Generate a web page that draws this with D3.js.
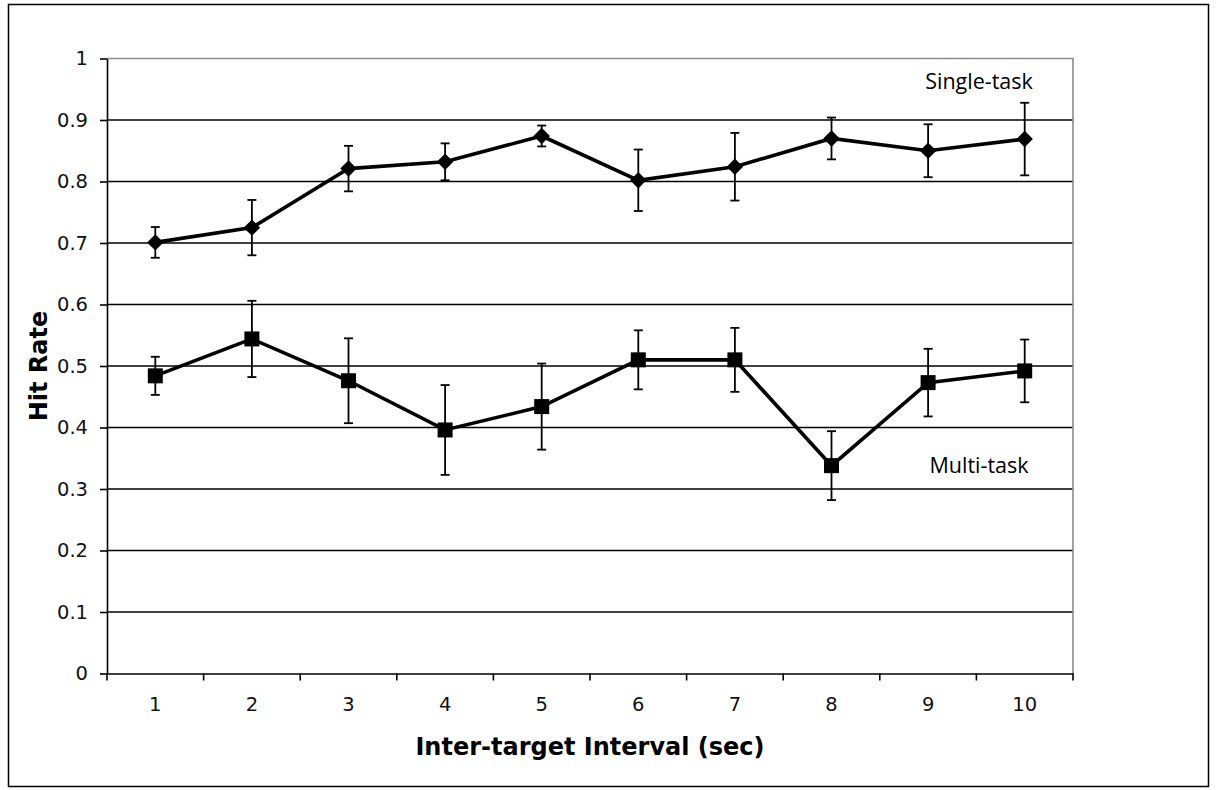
<!DOCTYPE html>
<html>
<head>
<meta charset="utf-8">
<script src="https://cdn.jsdelivr.net/npm/d3@7"></script>
<style>
  html, body { margin: 0; padding: 0; background: #fff; }
  svg { display: block; font-family: 'DejaVu Sans', Verdana, sans-serif; }
</style>
</head>
<body>
<div id="vis"></div>
<script>
const intervals = [1, 2, 3, 4, 5, 6, 7, 8, 9, 10];
const singleTask = [0.701, 0.725, 0.821, 0.832, 0.874, 0.802, 0.824, 0.870, 0.850, 0.869];
const singleErr = [0.025, 0.045, 0.037, 0.030, 0.017, 0.050, 0.055, 0.034, 0.043, 0.059];
const multiTask = [0.484, 0.544, 0.476, 0.396, 0.434, 0.510, 0.510, 0.338, 0.473, 0.492];
const multiErr = [0.031, 0.062, 0.069, 0.073, 0.070, 0.048, 0.052, 0.056, 0.055, 0.051];
const yTicks = [0, 0.1, 0.2, 0.3, 0.4, 0.5, 0.6, 0.7, 0.8, 0.9, 1];

const width = 1216, height = 790;
const margin = {top: 58.5, right: 143, bottom: 116.5, left: 107};
const font = "'DejaVu Sans', Verdana, sans-serif";

const svg = d3.select('#vis').append('svg')
    .attr('width', width)
    .attr('height', height);

// outer frame
svg.append('rect')
    .attr('x', 8.5).attr('y', 4.5)
    .attr('width', width - 16).attr('height', height - 8)
    .attr('fill', 'none')
    .attr('stroke', '#000')
    .attr('stroke-width', 1.5);

const x = d3.scaleBand()
    .domain(intervals)
    .range([margin.left, width - margin.right]);

const y = d3.scaleLinear()
    .domain([0, 1])
    .range([height - margin.bottom, margin.top]);

const cx = d => x(d) + x.bandwidth() / 2;

// gridlines
svg.append('g')
  .selectAll('line')
  .data(yTicks.slice(1, -1))
  .join('line')
    .attr('x1', margin.left).attr('x2', width - margin.right)
    .attr('y1', d => y(d)).attr('y2', d => y(d))
    .attr('stroke', '#000')
    .attr('stroke-width', 1.6);

// plot area top/right border (gray)
svg.append('path')
    .attr('d', `M${margin.left},${y(1)}H${width - margin.right}V${y(0)}`)
    .attr('fill', 'none')
    .attr('stroke', '#8c8c8c')
    .attr('stroke-width', 1.6);

// y axis
const yAxis = svg.append('g')
    .attr('transform', `translate(${margin.left},0)`)
    .call(d3.axisLeft(y).tickValues(yTicks).tickFormat(d3.format('')).tickSize(7).tickSizeOuter(0));
yAxis.select('.domain').attr('stroke-width', 1.6);
yAxis.selectAll('.tick line').attr('stroke-width', 1.6);
yAxis.selectAll('.tick text')
    .attr('x', -19)
    .attr('font-size', 19.5)
    .attr('font-family', font)
    .attr('fill', '#111');

// x axis
const xAxis = svg.append('g')
    .attr('transform', `translate(0,${y(0)})`)
    .call(d3.axisBottom(x).tickSize(0).tickSizeOuter(0));
xAxis.select('.domain').attr('stroke-width', 1.6);
xAxis.selectAll('.tick text')
    .attr('y', 24)
    .attr('font-size', 19.5)
    .attr('font-family', font)
    .attr('fill', '#111');

// tick marks at band edges
svg.append('g')
  .selectAll('line')
  .data(intervals.concat([null]))
  .join('line')
    .attr('x1', (d, i) => margin.left + i * x.step())
    .attr('x2', (d, i) => margin.left + i * x.step())
    .attr('y1', y(0)).attr('y2', y(0) + 7)
    .attr('stroke', '#000')
    .attr('stroke-width', 1.6);

// axis titles
svg.append('text')
    .attr('transform', `translate(47,${(y(0) + y(1)) / 2}) rotate(-90)`)
    .attr('text-anchor', 'middle')
    .attr('font-size', 24)
    .attr('font-weight', 'bold')
    .text('Hit Rate');

svg.append('text')
    .attr('x', (margin.left + width - margin.right) / 2)
    .attr('y', 755)
    .attr('text-anchor', 'middle')
    .attr('font-size', 24)
    .attr('font-weight', 'bold')
    .text('Inter-target Interval (sec)');

// diamond = square turned 45deg
const series = [
  {name: 'Single-task', values: singleTask, err: singleErr, size: 135, rotate: 45, labelY: 0.963},
  {name: 'Multi-task', values: multiTask, err: multiErr, size: 225, rotate: 0, labelY: 0.338},
];

const line = d3.line()
    .x(d => cx(d.x))
    .y(d => y(d.v));

series.forEach(s => {
  const pts = intervals.map((iv, i) => ({x: iv, v: s.values[i], e: s.err[i]}));
  const g = svg.append('g');

  // error bars
  const eb = g.selectAll('.err')
    .data(pts)
    .join('g')
      .attr('class', 'err')
      .attr('stroke', '#000')
      .attr('stroke-width', 1.8);
  eb.append('line')
      .attr('x1', d => cx(d.x)).attr('x2', d => cx(d.x))
      .attr('y1', d => y(d.v + d.e)).attr('y2', d => y(d.v - d.e));
  eb.append('line')
      .attr('x1', d => cx(d.x) - 4.5).attr('x2', d => cx(d.x) + 4.5)
      .attr('y1', d => y(d.v + d.e)).attr('y2', d => y(d.v + d.e));
  eb.append('line')
      .attr('x1', d => cx(d.x) - 4.5).attr('x2', d => cx(d.x) + 4.5)
      .attr('y1', d => y(d.v - d.e)).attr('y2', d => y(d.v - d.e));

  g.append('path')
      .datum(pts)
      .attr('d', line)
      .attr('fill', 'none')
      .attr('stroke', '#000')
      .attr('stroke-width', 3.6)
      .attr('stroke-linejoin', 'miter');

  g.selectAll('.mark')
    .data(pts)
    .join('path')
      .attr('class', 'mark')
      .attr('transform', d => `translate(${cx(d.x)},${y(d.v)}) rotate(${s.rotate})`)
      .attr('d', d3.symbol().type(d3.symbolSquare).size(s.size))
      .attr('fill', '#000');

  g.append('text')
      .attr('x', 979)
      .attr('y', y(s.labelY))
      .attr('dy', '0.35em')
      .attr('text-anchor', 'middle')
      .attr('font-size', 21.5)
      .attr('font-family', "'Open Sans', 'DejaVu Sans', sans-serif")
      .text(s.name);
});
</script>
</body>
</html>
